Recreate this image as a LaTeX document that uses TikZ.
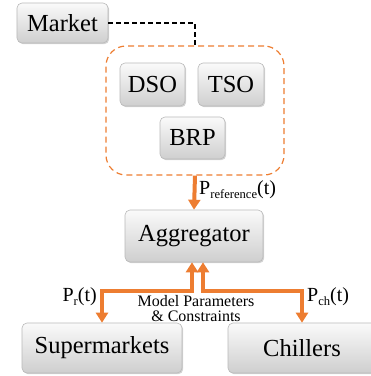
\documentclass[tikz,border=0pt]{standalone}
\usepackage{fontspec}
\setmainfont{Liberation Serif}
\usetikzlibrary{arrows.meta,shadows,calc}
\definecolor{oran}{RGB}{237,125,49}
\tikzset{
  box/.style={rectangle, rounded corners=5pt, draw=gray!55, line width=0.6pt,
    top color=gray!4, bottom color=gray!38,
    drop shadow={shadow xshift=1.2pt, shadow yshift=-1.2pt, opacity=0.35, fill=gray},
    font=\fontsize{24.5}{26}\selectfont, inner sep=0pt},
  grp/.style={rectangle, rounded corners=20pt, draw=oran, line width=1.2pt,
    dash pattern=on 6pt off 4pt},
  oarr/.style={draw=oran, line width=4pt, -{Triangle[length=10pt,width=12pt]}},
  oarr2/.style={draw=oran, line width=4pt, {Triangle[length=10pt,width=12pt]}-{Triangle[length=10pt,width=12pt]}},
  lbl/.style={font=\fontsize{20}{22}\selectfont, inner sep=0pt},
}
\newcommand{\sbs}[1]{\raisebox{-3.2pt}{\fontsize{12.6}{13}\selectfont #1}}
\begin{document}
\begin{tikzpicture}[x=1pt,y=-1pt]
\useasboundingbox (0,0) rectangle (371,376);
\clip (0,0) rectangle (371,376);
\node[grp, minimum width=178pt, minimum height=129pt] (grp) at (195,110.5) {};
\node[box, minimum width=91pt, minimum height=40pt] (market) at (62.5,23) {Market};
\node[box, minimum width=65pt, minimum height=43pt] (dso) at (152.5,84.5) {DSO};
\node[box, minimum width=66pt, minimum height=43pt] (tso) at (231,84.5) {TSO};
\node[box, minimum width=65pt, minimum height=42pt] (brp) at (192.5,138) {BRP};
\node[box, minimum width=138pt, minimum height=52pt] (agg) at (194,236) {Aggregator};
\node[box, minimum width=160pt, minimum height=50pt] (sup) at (102,348) {Supermarkets};
\node[box, minimum width=148pt, minimum height=50pt] (chi) at (302,348) {Chillers};

\draw[black, line width=1.5pt, dash pattern=on 5pt off 3pt] (market.east) -| (grp.north);

\draw[oarr] (grp.south) -- (agg.north);
\draw[oarr2] (sup.north) |- ($(agg.south)+(-2,29)$) -- ($(agg.south)+(-2,0)$);
\draw[oarr2] (chi.north) |- ($(agg.south)+(9,29)$) -- ($(agg.south)+(9,0)$);

\node[lbl, anchor=west] (pref) at (199,190) {P\sbs{reference}(t)};
\node[lbl, anchor=east] (pr) at (97,297) {P\sbs{r}(t)};
\node[lbl, anchor=west] (pch) at (307,297) {P\sbs{ch}(t)};
\node[align=center, inner sep=0pt, font=\fontsize{16}{14.5}\selectfont] (mp) at (196,308.5) {Model Parameters\\\& Constraints};
\end{tikzpicture}
\end{document}
